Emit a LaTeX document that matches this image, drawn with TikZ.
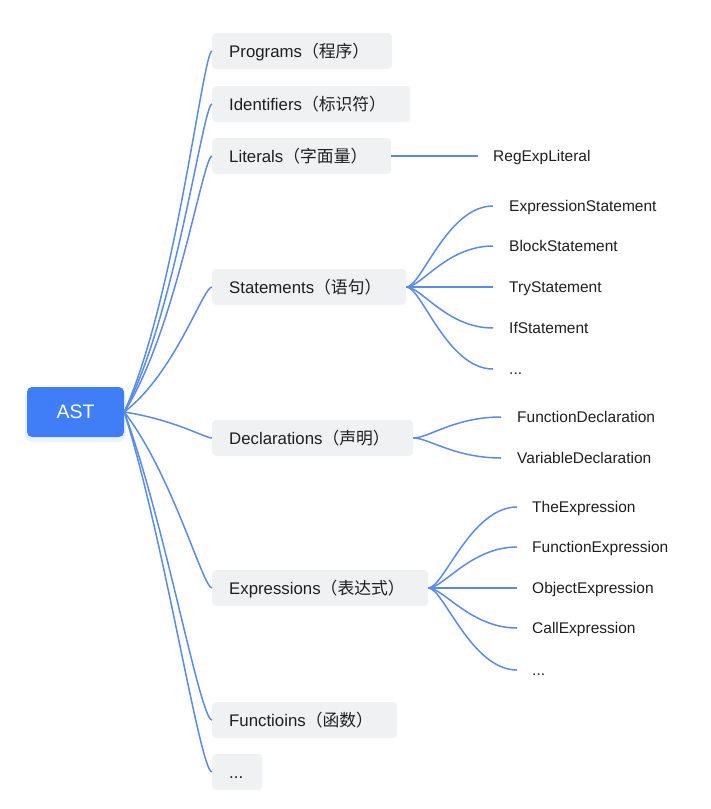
\documentclass[tikz,border=0pt]{standalone}
\usepackage{fontspec}
\setmainfont{Liberation Sans}
\newfontfamily\cjk{Noto Sans CJK SC}
\definecolor{astblue}{HTML}{3F7EF6}
\definecolor{boxgray}{HTML}{F0F1F3}
\definecolor{linkblue}{HTML}{5A8AEA}
\definecolor{txt}{HTML}{1F1F1F}
\begin{document}
\begin{tikzpicture}[x=1pt,y=-1pt,
  root/.style={fill=astblue,text=white,rounded corners=5pt,minimum width=97pt,minimum height=50pt,font=\fontsize{19.5}{22}\selectfont,inner sep=0pt},
  topic/.style={fill=boxgray,text=txt,rounded corners=4pt,anchor=west,minimum height=36pt,inner xsep=17pt,inner ysep=0pt,
    text height=15pt,text depth=3pt,align=left,font=\fontsize{16.8}{19}\selectfont},
  leaf/.style={anchor=west,text=txt,inner xsep=16pt,inner ysep=0pt,text height=14pt,text depth=3pt,font=\fontsize{15.5}{18}\selectfont},
  link/.style={draw=linkblue,line width=1.5pt},
]
\useasboundingbox (0,0) rectangle (711,809);
\fill[astblue,opacity=0.10,rounded corners=7pt] (25,391) rectangle (126,442);
\node[root] (ast) at (75.5,412) {AST};
\node[topic,text width=146pt] (prog) at (212,51) {Programs{\cjk（程序）}};
\node[topic,text width=164pt] (ident) at (212,104) {Identifiers{\cjk（标识符）}};
\node[topic,text width=145pt] (lit) at (212,156) {Literals{\cjk（字面量）}};
\node[topic,text width=160pt] (stmt) at (212,287) {Statements{\cjk（语句）}};
\node[topic,text width=167pt] (decl) at (212,438) {Declarations{\cjk（声明）}};
\node[topic,text width=182pt] (expr) at (212,588) {Expressions{\cjk（表达式）}};
\node[topic,text width=151pt] (func) at (212,720) {Functioins{\cjk（函数）}};
\node[topic,text width=16pt] (more) at (212,772) {...};

\foreach \t/\cx/\cy/\ex in {prog/51/-112/-9,ident/51/-95/-9,lit/51/-79/-9,stmt/51/-39/-9,decl/51/8/-7,expr/48/62/-9,func/40/108/-12,more/40/126/-12}
  \draw[link] (ast.east) .. controls +(\cx,\cy) and +(\ex,0) .. (\t.west);

\node[leaf,inner xsep=15pt] (regexp) at (478,156) {RegExpLiteral};
\draw[link] (lit.east) -- (regexp.west);

\node[leaf] (s1) at (493,206) {ExpressionStatement};
\node[leaf] (s2) at (493,246) {BlockStatement};
\node[leaf] (s3) at (493,287) {TryStatement};
\node[leaf] (s4) at (493,328) {IfStatement};
\node[leaf] (s5) at (493,369) {...};
\foreach \t in {s1,s2,s3,s4,s5}
  \draw[link] (stmt.east) .. controls +(15,0) and +(-46,0) .. (\t.west);

\node[leaf] (d1) at (501,417) {FunctionDeclaration};
\node[leaf] (d2) at (501,458) {VariableDeclaration};
\foreach \t in {d1,d2}
  \draw[link] (decl.east) .. controls +(15,0) and +(-46,0) .. (\t.west);

\node[leaf,inner xsep=15pt] (e1) at (517,507) {TheExpression};
\node[leaf,inner xsep=15pt] (e2) at (517,547) {FunctionExpression};
\node[leaf,inner xsep=15pt] (e3) at (517,588) {ObjectExpression};
\node[leaf,inner xsep=15pt] (e4) at (517,628) {CallExpression};
\node[leaf,inner xsep=15pt] (e5) at (517,670) {...};
\foreach \t in {e1,e2,e3,e4,e5}
  \draw[link] (expr.east) .. controls +(15,0) and +(-46,0) .. (\t.west);
\end{tikzpicture}
\end{document}
